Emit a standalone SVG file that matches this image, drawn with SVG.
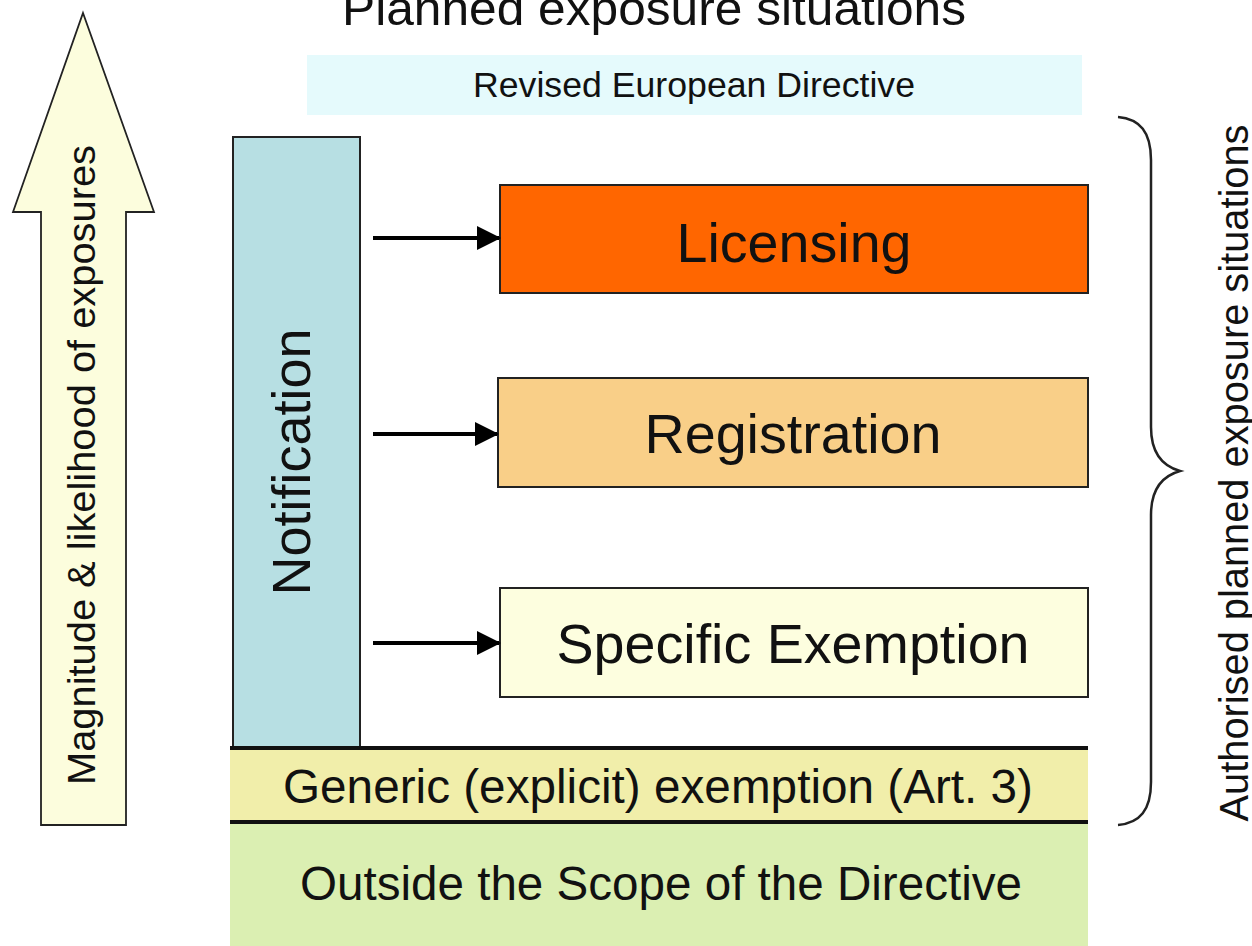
<svg xmlns="http://www.w3.org/2000/svg" width="1252" height="946" viewBox="0 0 1252 946">
  <defs>
    <marker id="head" markerWidth="6" markerHeight="6" refX="5.5" refY="3" orient="auto" markerUnits="strokeWidth">
      <path d="M0,0 L6,3 L0,6 Z" fill="#000"/>
    </marker>
  </defs>
  <style>
    text { font-family: "Liberation Sans", Arial, sans-serif; fill: #111; }
    .box { stroke: #222; stroke-width: 2; }
    .rule { stroke: #111; stroke-width: 4; }
    .conn { stroke: #000; stroke-width: 4; fill: none; }
  </style>

  <rect width="1252" height="946" fill="#ffffff"/>

  <!-- heading -->
  <g id="title">
    <text x="654" y="25" font-size="49" text-anchor="middle" textLength="624" lengthAdjust="spacingAndGlyphs">Planned exposure situations</text>
  </g>

  <!-- directive band -->
  <g id="directive">
    <rect x="307" y="55" width="775" height="60" fill="#e5fafc"/>
    <text x="694" y="97" font-size="35" text-anchor="middle" textLength="442" lengthAdjust="spacingAndGlyphs">Revised European Directive</text>
  </g>

  <!-- magnitude arrow -->
  <g id="magnitude">
    <path d="M83,13 L154,212 L126,212 L126,825 L41,825 L41,212 L13,212 Z" fill="#fcfddd" stroke="#222" stroke-width="1.8"/>
    <text transform="translate(95,465) rotate(-90)" font-size="39" text-anchor="middle" textLength="640" lengthAdjust="spacingAndGlyphs">Magnitude &amp; likelihood of exposures</text>
  </g>

  <!-- notification column -->
  <g id="notification">
    <rect class="box" x="233" y="137" width="127" height="611" fill="#b7dfe3"/>
    <text transform="translate(310,462) rotate(-90)" font-size="53" text-anchor="middle" textLength="267" lengthAdjust="spacingAndGlyphs">Notification</text>
  </g>

  <g id="licensing">
    <rect class="box" x="500" y="185" width="588" height="108" fill="#ff6600"/>
    <text x="794" y="262" font-size="56" text-anchor="middle" textLength="235" lengthAdjust="spacingAndGlyphs">Licensing</text>
  </g>

  <g id="registration">
    <rect class="box" x="498" y="378" width="590" height="109" fill="#f9cf88"/>
    <text x="793" y="453" font-size="56" text-anchor="middle" textLength="297" lengthAdjust="spacingAndGlyphs">Registration</text>
  </g>

  <g id="specific-exemption">
    <rect class="box" x="500" y="588" width="588" height="109" fill="#fdfedf"/>
    <text x="793" y="663" font-size="56" text-anchor="middle" textLength="473" lengthAdjust="spacingAndGlyphs">Specific Exemption</text>
  </g>

  <g id="generic-exemption">
    <rect x="230" y="748" width="858" height="74" fill="#f1eeaa"/>
    <text x="658" y="803" font-size="48" text-anchor="middle" textLength="750" lengthAdjust="spacingAndGlyphs">Generic (explicit) exemption (Art. 3)</text>
  </g>

  <g id="outside-scope">
    <rect x="230" y="822" width="858" height="124" fill="#dbefb2"/>
    <text x="661" y="900" font-size="48" text-anchor="middle" textLength="722" lengthAdjust="spacingAndGlyphs">Outside the Scope of the Directive</text>
  </g>

  <!-- band separators -->
  <g id="separators">
    <line class="rule" x1="230" y1="748" x2="1088" y2="748"/>
    <line class="rule" x1="230" y1="822" x2="1088" y2="822"/>
  </g>

  <!-- brace and its label -->
  <g id="authorised">
    <path d="M1118,117 C1140,119 1151,132 1151,160 L1151,427 C1151,452 1162,466 1180,471 C1162,476 1151,490 1151,515 L1151,782 C1151,810 1140,823 1118,825" fill="none" stroke="#222" stroke-width="2.5"/>
    <text transform="translate(1248,473) rotate(-90)" font-size="40" text-anchor="middle" textLength="697" lengthAdjust="spacingAndGlyphs">Authorised planned exposure situations</text>
  </g>

  <!-- connectors from notification -->
  <g id="connectors">
    <line class="conn" x1="373" y1="238" x2="499" y2="238" marker-end="url(#head)"/>
    <line class="conn" x1="373" y1="434" x2="497" y2="434" marker-end="url(#head)"/>
    <line class="conn" x1="373" y1="643" x2="499" y2="643" marker-end="url(#head)"/>
  </g>
</svg>
